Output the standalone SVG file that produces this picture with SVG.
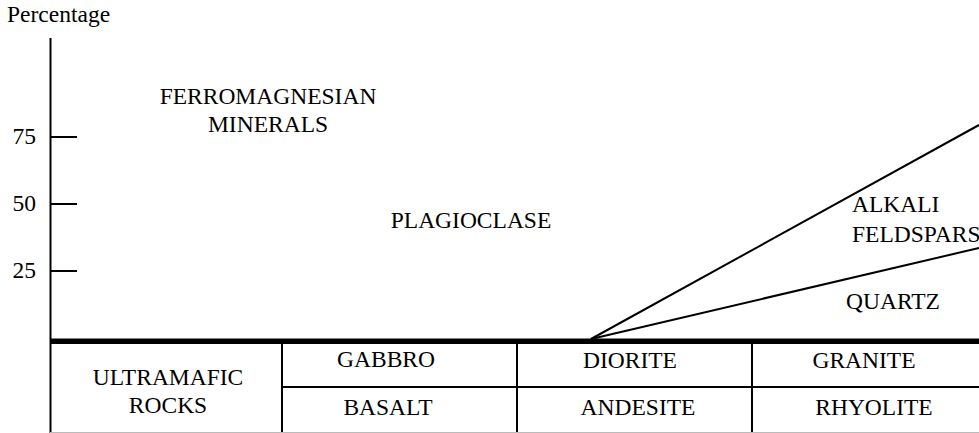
<svg xmlns="http://www.w3.org/2000/svg" width="979" height="433" viewBox="0 0 979 433">
<style>
text{font-family:"Liberation Serif","Times New Roman",serif;font-size:23.5px;fill:#000}
.c{text-anchor:middle}
.e{text-anchor:end}
.ln{stroke:#000;stroke-width:2;fill:none}
</style>
<rect width="979" height="433" fill="#fff"/>
<g id="axis">
<line class="ln" x1="50.5" y1="38" x2="50.5" y2="433"/>
<line class="ln" x1="50" y1="137" x2="77" y2="137"/>
<line class="ln" x1="50" y1="204" x2="77" y2="204"/>
<line class="ln" x1="50" y1="271" x2="77" y2="271"/>
<text x="7" y="22">Percentage</text>
<text class="e" x="36" y="144">75</text>
<text class="e" x="36" y="211">50</text>
<text class="e" x="36" y="278">25</text>
</g>
<g id="connectors">
<line class="ln" x1="591" y1="339" x2="979" y2="125"/>
<line class="ln" x1="591" y1="339" x2="979" y2="248"/>
<line x1="50" y1="341.3" x2="979" y2="341.3" stroke="#000" stroke-width="5.5"/>
<line class="ln" x1="282" y1="341" x2="282" y2="433"/>
<line class="ln" x1="517" y1="341" x2="517" y2="433"/>
<line class="ln" x1="752" y1="341" x2="752" y2="433"/>
<line class="ln" x1="282" y1="387" x2="979" y2="387"/>
<line x1="50" y1="432.5" x2="979" y2="432.5" stroke="#bbb" stroke-width="1"/>
</g>
<g id="ferromagnesian"><text class="c" x="268" y="104">FERROMAGNESIAN</text><text class="c" x="268" y="132">MINERALS</text></g>
<g id="plagioclase"><text class="c" x="471" y="228">PLAGIOCLASE</text></g>
<g id="alkali"><text x="852" y="212">ALKALI</text><text x="852" y="242">FELDSPARS</text></g>
<g id="quartz"><text x="846" y="309">QUARTZ</text></g>
<g id="ultramafic"><text class="c" x="168" y="385">ULTRAMAFIC</text><text class="c" x="168" y="413">ROCKS</text></g>
<g id="gabbro"><text class="c" x="386" y="367">GABBRO</text></g>
<g id="basalt"><text class="c" x="388" y="415">BASALT</text></g>
<g id="diorite"><text class="c" x="630" y="368">DIORITE</text></g>
<g id="andesite"><text class="c" x="638" y="415">ANDESITE</text></g>
<g id="granite"><text class="c" x="864" y="368">GRANITE</text></g>
<g id="rhyolite"><text class="c" x="874" y="415">RHYOLITE</text></g>
</svg>
